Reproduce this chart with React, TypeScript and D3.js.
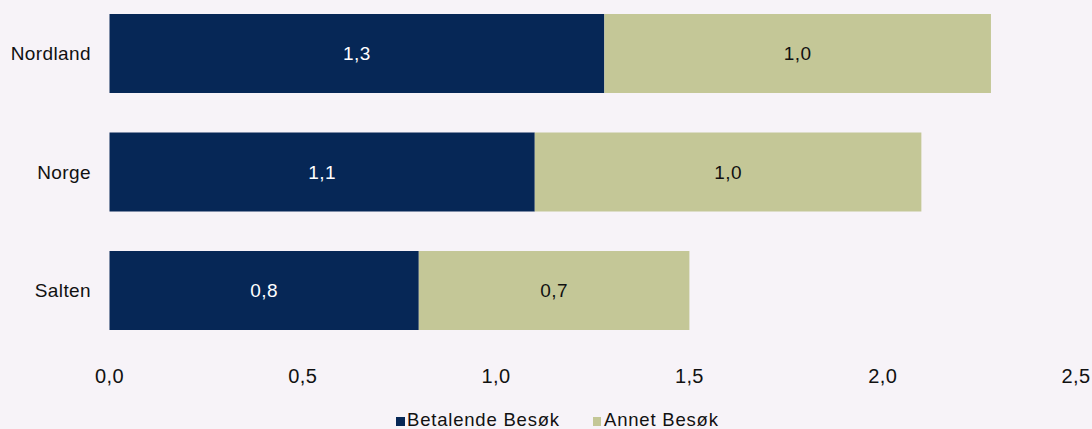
import React from "react";
import { scaleLinear, scaleBand, format } from "d3";

const categories = ["Nordland", "Norge", "Salten"];
const betalende = [1.28, 1.1, 0.8];
const annet = [1.0, 1.0, 0.7];
const seriesNames = ["Betalende Besøk", "Annet Besøk"];
const xTicks = [0, 0.5, 1.0, 1.5, 2.0, 2.5];

const colors = ["#062756", "#c4c797"];

export default function App() {
  const width = 1092;
  const height = 429;
  const font = "'Liberation Sans', Arial, sans-serif";

  const xScale = scaleLinear().domain([0, 2.5]).range([109.5, 1076]);
  const yScale = scaleBand<string>()
    .domain(categories)
    .range([14, 330])
    .paddingInner(1 / 3)
    .paddingOuter(0);

  const fmt = (v: number) => format(".1f")(v).replace(".", ",");

  return (
    <div style={{ position: "absolute", left: 0, top: 0 }}>
      <svg width={width} height={height} style={{ display: "block", background: "#f7f3f8" }}>
        <g fontFamily={font} fontSize={19} letterSpacing={0.4}>
          {categories.map((c, i) => {
            const y = yScale(c)!;
            const bw = yScale.bandwidth();
            const x0 = xScale(0);
            const x1 = xScale(betalende[i]);
            const x2 = xScale(betalende[i] + annet[i]);
            return (
              <g key={c}>
                <text x={91} y={y + bw / 2} dy="0.35em" textAnchor="end" fill="#111">
                  {c}
                </text>
                <rect x={x0} y={y} width={x1 - x0} height={bw} fill={colors[0]} />
                <rect x={x1} y={y} width={x2 - x1} height={bw} fill={colors[1]} />
                <text x={(x0 + x1) / 2} y={y + bw / 2} dy="0.35em" textAnchor="middle" fill="#fff">
                  {fmt(betalende[i])}
                </text>
                <text x={(x1 + x2) / 2} y={y + bw / 2} dy="0.35em" textAnchor="middle" fill="#111">
                  {fmt(annet[i])}
                </text>
              </g>
            );
          })}
          {xTicks.map((t) => (
            <text key={t} x={xScale(t)} y={383} textAnchor="middle" fill="#111" fontSize={20}>
              {fmt(t)}
            </text>
          ))}
          <g letterSpacing={0.8} fontSize={18.5}>
            <rect x={396} y={417} width={9} height={9} fill={colors[0]} />
            <text x={407} y={426} fill="#111">{seriesNames[0]}</text>
            <rect x={593} y={417} width={8} height={9} fill={colors[1]} />
            <text x={604} y={426} fill="#111">{seriesNames[1]}</text>
          </g>
        </g>
      </svg>
    </div>
  );
}
